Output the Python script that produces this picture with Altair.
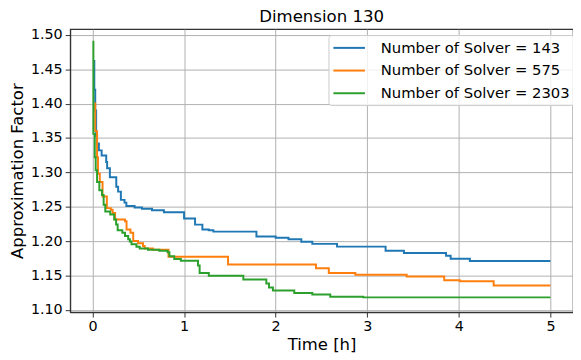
import altair as alt
import pandas as pd

# Series data: (time in hours, approximation factor), step changes
t_143 = [0.012, 0.02, 0.03, 0.04, 0.05, 0.07, 0.10, 0.15, 0.16, 0.19, 0.26, 0.28, 0.31, 0.35, 0.37,
         0.46, 0.54, 0.65, 0.78, 1.00, 1.12, 1.20, 1.27, 1.32, 1.79, 2.00, 2.14, 2.28, 2.40, 2.67,
         3.20, 3.40, 3.86, 3.91, 4.12, 5.00]
v_143 = [1.462, 1.42, 1.39, 1.353, 1.342, 1.332, 1.3245, 1.315, 1.306, 1.293, 1.279, 1.272, 1.260, 1.256, 1.251,
         1.249, 1.247, 1.245, 1.242, 1.233, 1.224, 1.217, 1.2157, 1.2138, 1.2066, 1.205, 1.2027, 1.199, 1.196, 1.192,
         1.186, 1.1827, 1.1788, 1.1745, 1.171, 1.171]

t_575 = [0.02, 0.03, 0.05, 0.06, 0.08, 0.11, 0.157, 0.20, 0.22, 0.247, 0.355, 0.372, 0.415, 0.445, 0.498,
         0.552, 0.57, 0.66, 0.83, 1.48, 2.44, 2.58, 2.87, 3.43, 3.84, 4.01, 4.38, 5.00]
v_575 = [1.40, 1.36, 1.322, 1.298, 1.286, 1.265, 1.248, 1.2457, 1.241, 1.2314, 1.229, 1.217, 1.2123, 1.2003, 1.197,
         1.193, 1.1894, 1.1874, 1.1774, 1.1659, 1.1605, 1.1536, 1.1512, 1.1485, 1.143, 1.1416, 1.1354, 1.1354]

t_2303 = [0.0, 0.01, 0.025, 0.035, 0.05, 0.075, 0.104, 0.122, 0.14, 0.194, 0.237, 0.258, 0.275, 0.326, 0.355,
          0.39, 0.408, 0.426, 0.48, 0.516, 0.606, 0.73, 0.82, 0.84, 0.893, 0.965, 1.152, 1.17, 1.27, 1.647,
          1.898, 1.927, 1.97, 2.203, 2.40, 2.596, 2.956, 5.00]
v_2303 = [1.49, 1.356, 1.322, 1.303, 1.286, 1.274, 1.267, 1.253, 1.243, 1.2386, 1.2314, 1.2242, 1.2157, 1.2123, 1.2075,
          1.2027, 1.1994, 1.1956, 1.1917, 1.1894, 1.1874, 1.186, 1.1837, 1.178, 1.174, 1.1716, 1.1645, 1.1536, 1.1495, 1.1442,
          1.1383, 1.1325, 1.1282, 1.1245, 1.1225, 1.1192, 1.1182, 1.1182]

series_names = ["Number of Solver = 143", "Number of Solver = 575", "Number of Solver = 2303"]
series_colors = ["#1f77b4", "#ff7f0e", "#2ca02c"]
x_ticks = [0, 1, 2, 3, 4, 5]
y_ticks = [1.10, 1.15, 1.20, 1.25, 1.30, 1.35, 1.40, 1.45, 1.50]

rows = []
for name, ts, vs in zip(series_names, [t_143, t_575, t_2303], [v_143, v_575, v_2303]):
    for t, v in zip(ts, vs):
        rows.append({"series": name, "t": t, "v": v})
df = pd.DataFrame(rows)

FONT = "DejaVu Sans"

chart = alt.Chart(df).mark_line(
    interpolate="step-after", strokeWidth=2, clip=True
).encode(
    x=alt.X("t:Q", title="Time [h]",
            scale=alt.Scale(domain=[-0.244, 5.246], nice=False, zero=False),
            axis=alt.Axis(values=x_ticks, format="d")),
    y=alt.Y("v:Q", title="Approximation Factor",
            scale=alt.Scale(domain=[1.0967, 1.5083], nice=False, zero=False),
            axis=alt.Axis(values=y_ticks, format=".2f")),
    color=alt.Color("series:N", sort=series_names,
                    scale=alt.Scale(domain=series_names, range=series_colors),
                    legend=alt.Legend(title=None, orient="none", legendX=262, legendY=6,
                                      symbolType="M-1,0H3", symbolSize=256, symbolStrokeWidth=2,
                                      labelFont=FONT, labelFontSize=15, labelColor="black",
                                      labelLimit=0, labelOffset=31, rowPadding=6, padding=4,
                                      fillColor="rgba(255,255,255,0.8)", strokeColor="#cccccc",
                                      cornerRadius=3)),
    detail="series:N",
    order=alt.Order("t:Q"),
).properties(
    width=510, height=287,
    title=alt.TitleParams("Dimension 130", font=FONT, fontSize=16.8, fontWeight="normal",
                          color="black", offset=1),
    autosize=alt.AutoSizeParams(type="none"),
    padding={"left": 63, "top": 19, "right": 0, "bottom": 40},
).configure_axis(
    labelFont=FONT, labelFontSize=14.5, labelColor="black",
    titleFont=FONT, titleFontSize=16.7, titleFontWeight="normal", titleColor="black",
    gridColor="#b0b0b0", gridWidth=1, gridOpacity=1,
    domainColor="#333333", domainWidth=1.2,
    tickColor="#333333", tickSize=5, tickWidth=1,
    labelPadding=3,
).configure_axisX(
    titlePadding=3,
).configure_axisY(
    titlePadding=4,
).configure_view(
    stroke="#333333", strokeWidth=1.2,
)

chart.save("out.html", embed_options={"renderer": "svg", "actions": False})
